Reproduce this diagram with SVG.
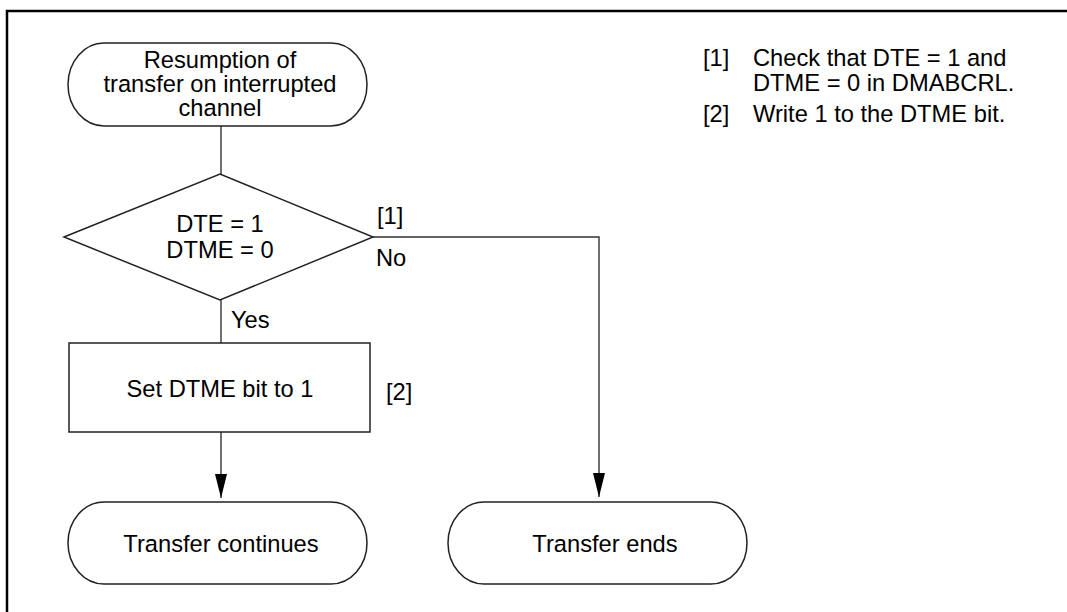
<svg xmlns="http://www.w3.org/2000/svg" width="1067" height="612" viewBox="0 0 1067 612">
<style>
text{font-family:"Liberation Sans",Arial,sans-serif;font-size:23.7px;fill:#000}
.c{text-anchor:middle}
.node{fill:#fff;stroke:#222;stroke-width:1.5}
.conn{fill:none;stroke:#333;stroke-width:1.4}
</style>
<defs>
<marker id="arr" viewBox="0 0 24 12" refX="24" refY="6" markerWidth="24" markerHeight="12" orient="auto" markerUnits="userSpaceOnUse">
<path d="M0,0 L24,6 L0,12 z" fill="#000"/>
</marker>
</defs>
<rect x="7" y="11" width="1090" height="640" fill="#fff" stroke="#000" stroke-width="2.5"/>
<g id="connectors">
<path class="conn" d="M221,126 V174"/>
<path class="conn" d="M221,300 V343"/>
<path class="conn" d="M221,432 V498" marker-end="url(#arr)"/>
<path class="conn" d="M373,237 H599 V497" marker-end="url(#arr)"/>
</g>
<g id="start">
<rect class="node" x="68" y="43" width="299" height="83" rx="36" ry="41.5"/>
<text class="c" x="220" y="68">Resumption of</text>
<text class="c" x="220" y="92">transfer on interrupted</text>
<text class="c" x="220" y="116">channel</text>
</g>
<g id="decision">
<polygon class="node" points="64,237 220,174 373,237 220,300"/>
<text class="c" x="220" y="232">DTE = 1</text>
<text class="c" x="220" y="258">DTME = 0</text>
<text x="377" y="224">[1]</text>
<text x="376" y="266">No</text>
<text x="231" y="328">Yes</text>
</g>
<g id="setbit">
<rect class="node" x="69" y="343" width="301" height="89"/>
<text class="c" x="220" y="397">Set DTME bit to 1</text>
<text x="386" y="400">[2]</text>
</g>
<g id="continues">
<rect class="node" x="68" y="502" width="299" height="82" rx="36" ry="41"/>
<text class="c" x="221" y="552">Transfer continues</text>
</g>
<g id="ends">
<rect class="node" x="448" y="502" width="299" height="82" rx="36" ry="41"/>
<text class="c" x="605" y="552">Transfer ends</text>
</g>
<g id="notes">
<text x="703" y="66">[1]</text>
<text x="753" y="66">Check that DTE = 1 and</text>
<text x="753" y="91">DTME = 0 in DMABCRL.</text>
<text x="703" y="122">[2]</text>
<text x="753" y="122">Write 1 to the DTME bit.</text>
</g>
</svg>
